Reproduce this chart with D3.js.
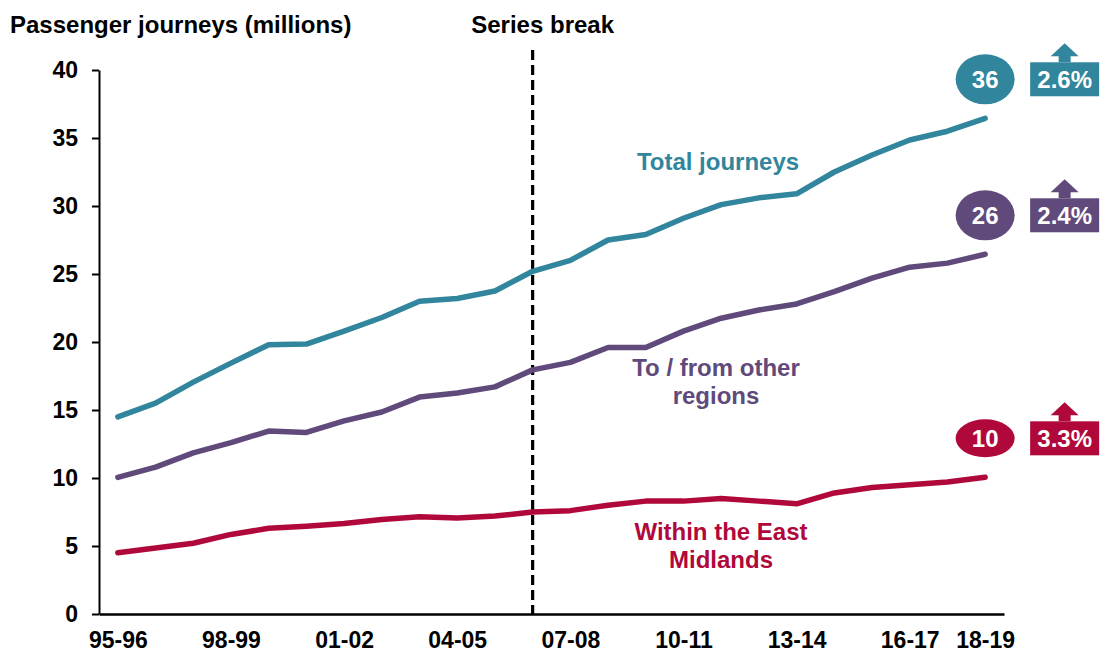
<!DOCTYPE html>
<html>
<head>
<meta charset="utf-8">
<script src="https://cdn.jsdelivr.net/npm/d3@7"></script>
<style>
  body { margin: 0; background: #fff; }
  text { font-family: "Liberation Sans", Arial, sans-serif; font-weight: bold; }
</style>
</head>
<body>
<script>
// Passenger journeys, East Midlands - D3 line chart

const categories = ["95-96", "96-97", "97-98", "98-99", "99-00", "00-01", "01-02", "02-03",
  "03-04", "04-05", "05-06", "06-07", "07-08", "08-09", "09-10", "10-11", "11-12", "12-13",
  "13-14", "14-15", "15-16", "16-17", "17-18", "18-19"];
const tickLabels = ["95-96", "98-99", "01-02", "04-05", "07-08", "10-11", "13-14", "16-17", "18-19"];
const yTicks = [0, 5, 10, 15, 20, 25, 30, 35, 40];

const total = [14.5, 15.5, 17.05, 18.45, 19.8, 19.85, 20.8, 21.8, 23.0, 23.2, 23.75, 25.2,
  26.0, 27.5, 27.9, 29.1, 30.1, 30.6, 30.9, 32.5, 33.75, 34.85, 35.5, 36.45];
const otherRegions = [10.05, 10.8, 11.85, 12.6, 13.45, 13.35, 14.2, 14.85, 15.95, 16.25, 16.7, 17.95,
  18.5, 19.6, 19.6, 20.8, 21.75, 22.35, 22.8, 23.7, 24.7, 25.5, 25.8, 26.45];
const withinEM = [4.5, 4.85, 5.2, 5.85, 6.3, 6.45, 6.65, 6.95, 7.15, 7.05, 7.2, 7.5,
  7.6, 8.0, 8.3, 8.3, 8.5, 8.3, 8.1, 8.9, 9.3, 9.5, 9.7, 10.05];
const growth = ["2.6%", "2.4%", "3.3%"];
const breakCategory = "06-07";

const colors = { total: "#31859c", other: "#604a7b", within: "#b0083a" };

const width = 1106, height = 653;

const svg = d3.select("body").append("svg")
  .attr("width", width)
  .attr("height", height);

const x = d3.scalePoint().domain(categories).range([99, 1004]).padding(0.5);
const y = d3.scaleLinear().domain([0, 40]).range([614, 70]);

// axes
const yAxis = svg.append("g")
  .attr("transform", "translate(99,0)")
  .call(d3.axisLeft(y).tickValues(yTicks).tickSize(7).tickSizeOuter(0).tickPadding(14));
yAxis.select(".domain").attr("stroke", "#000").attr("stroke-width", 2);
yAxis.selectAll(".tick line").attr("stroke", "#000").attr("stroke-width", 2);
yAxis.selectAll("text").attr("font-size", "23px").attr("fill", "#000")
  .style("font-family", "'Liberation Sans', Arial, sans-serif").style("font-weight", "bold");

const xAxis = svg.append("g")
  .attr("transform", "translate(0,614)")
  .call(d3.axisBottom(x).tickValues(tickLabels).tickSize(0).tickSizeOuter(0).tickPadding(18));
xAxis.select(".domain").attr("stroke", "#000").attr("stroke-width", 2.5);
xAxis.selectAll("text").attr("font-size", "23px").attr("fill", "#000")
  .style("font-family", "'Liberation Sans', Arial, sans-serif").style("font-weight", "bold");

// series break
svg.append("line")
  .attr("x1", x(breakCategory)).attr("x2", x(breakCategory))
  .attr("y1", y(40) - 20).attr("y2", y(0))
  .attr("stroke", "#000")
  .attr("stroke-width", 3.2)
  .attr("stroke-dasharray", "10,5");

svg.append("text")
  .attr("x", x(breakCategory) + 10).attr("y", 33)
  .attr("text-anchor", "middle")
  .attr("font-size", "24px")
  .text("Series break");

svg.append("text")
  .attr("x", 10).attr("y", 33)
  .attr("font-size", "24px")
  .text("Passenger journeys (millions)");

// lines
const line = d3.line().x((d, i) => x(categories[i])).y((d) => y(d));

const series = [
  { key: "total", values: total, pct: growth[0], ry: 25 },
  { key: "other", values: otherRegions, pct: growth[1], ry: 25 },
  { key: "within", values: withinEM, pct: growth[2], ry: 19 }
];

svg.selectAll("path.series")
  .data(series)
  .enter()
  .append("path")
  .attr("class", "series")
  .attr("d", (d) => line(d.values))
  .attr("fill", "none")
  .attr("stroke", (d) => colors[d.key])
  .attr("stroke-width", 5.5)
  .attr("stroke-linecap", "round")
  .attr("stroke-linejoin", "round");

// series labels
const labels = [
  { key: "total", lines: ["Total journeys"], x: 718, y: 170 },
  { key: "other", lines: ["To / from other", "regions"], x: 716, y: 376 },
  { key: "within", lines: ["Within the East", "Midlands"], x: 721, y: 540 }
];

labels.forEach((l) => {
  l.lines.forEach((t, i) => {
    svg.append("text")
      .attr("x", l.x).attr("y", l.y + i * 28)
      .attr("text-anchor", "middle")
      .attr("font-size", "24px")
      .attr("fill", colors[l.key])
      .text(t);
  });
});

// end value bubbles and growth boxes
const last = categories[categories.length - 1];
series.forEach((s) => {
  const v = s.values[s.values.length - 1];
  const cx = x(last);
  const cy = y(v) - 39;
  const g = svg.append("g");
  g.append("ellipse")
    .attr("cx", cx).attr("cy", cy)
    .attr("rx", 29.5).attr("ry", s.ry)
    .attr("fill", colors[s.key]);
  g.append("text")
    .attr("x", cx).attr("y", cy + 8.5)
    .attr("text-anchor", "middle")
    .attr("font-size", "24px")
    .attr("fill", "#fff")
    .text(Math.round(v));

  const bx = cx + 45, bw = 69, bh = 34, by = cy - 17;
  const ax = bx + bw / 2;
  g.append("path")
    .attr("d", `M${ax - 6},${by} L${ax - 6},${by - 6} L${ax - 14},${by - 6} L${ax},${by - 19} L${ax + 14},${by - 6} L${ax + 6},${by - 6} L${ax + 6},${by} Z`)
    .attr("fill", colors[s.key]);
  g.append("rect")
    .attr("x", bx).attr("y", by)
    .attr("width", bw).attr("height", bh)
    .attr("fill", colors[s.key]);
  g.append("text")
    .attr("x", ax).attr("y", by + bh / 2 + 8.5)
    .attr("text-anchor", "middle")
    .attr("font-size", "24px")
    .attr("fill", "#fff")
    .text(s.pct);
});
</script>
</body>
</html>
